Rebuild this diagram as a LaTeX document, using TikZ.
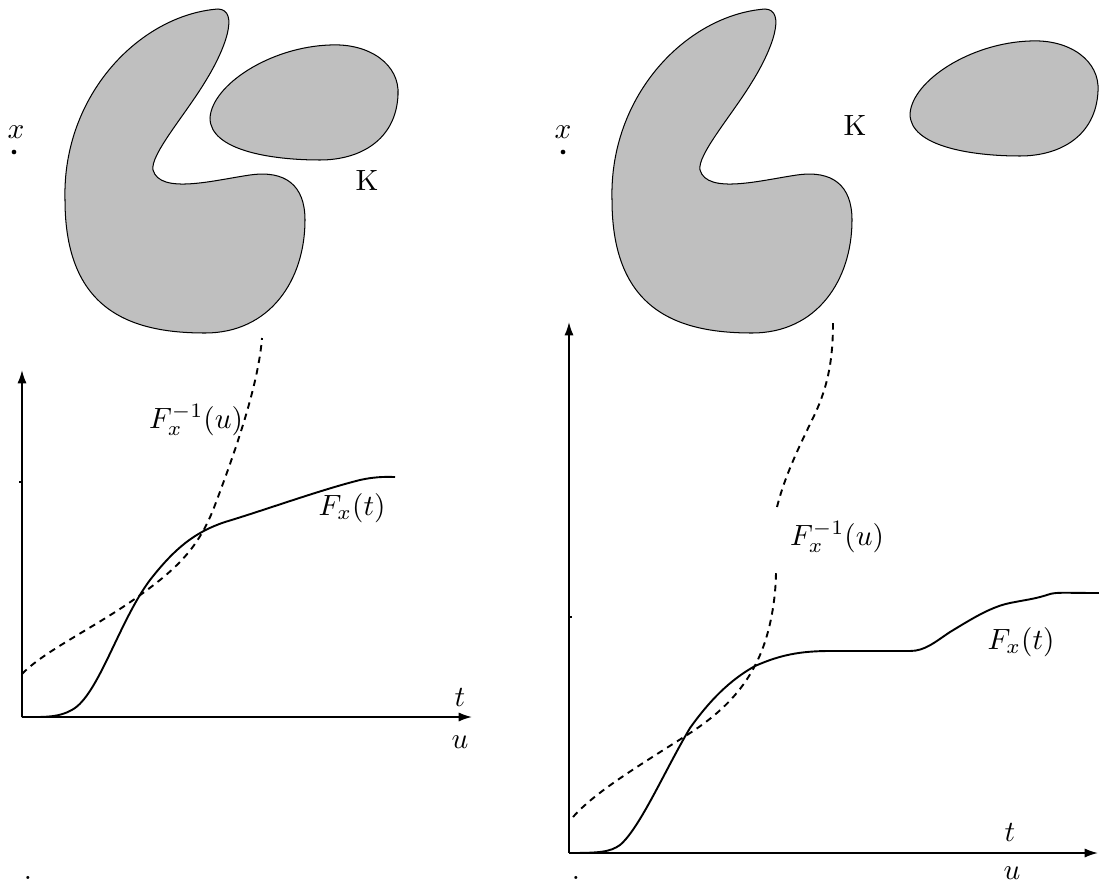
\documentclass[tikz,border=0pt]{standalone}
\usetikzlibrary{arrows.meta}

\begin{document}
\begin{tikzpicture}[
    x=0.012cm, y=-0.012cm,
    axis/.style={-{Latex[length=1.6mm,width=1.1mm]}, line width=0.6pt},
    cdf/.style={line width=0.65pt},
    inv/.style={line width=0.65pt, dash pattern=on 2.2pt off 1.8pt},
    blob/.style={draw=black, fill=black!25, line width=0.35pt},
    lbl/.style={inner sep=0pt},
    bigblob/.pic={
        \draw[blob] (218,9) .. controls (140,15) and (62,95) .. (65,200)
            .. controls (65,310) and (130,333) .. (205,333)
            .. controls (270,333) and (305,280) .. (305,220)
            .. controls (305,185) and (285,170) .. (250,175)
            .. controls (215,180) and (160,195) .. (153,170)
            .. controls (150,155) and (185,115) .. (205,82)
            .. controls (225,50) and (240,10) .. cycle;
    },
    smallblob/.pic={
        \draw[blob] (210,118) .. controls (212,85) and (270,47) .. (330,45)
            .. controls (370,43) and (400,65) .. (398,95)
            .. controls (396,140) and (360,160) .. (320,160)
            .. controls (270,160) and (210,150) .. cycle;
    }
]
\useasboundingbox (0,0) rectangle (1099,886);

% left panel
\pic at (0,0) {bigblob};
\pic at (0,0) {smallblob};
\node[lbl] (xa) at (16,132) {$x$};
\fill (14,152) circle[radius=0.8pt];
\node[lbl] (ka) at (367,180) {K};

\coordinate (oa) at (22,717);
\coordinate (ya) at (22,370);
\coordinate (ta) at (472,717);
\draw[axis] (oa) -- (ya);
\draw[axis] (oa) -- (ta);
\draw[line width=0.4pt] (22,482) -- ++(-3,0);

\draw[cdf] (oa) .. controls (45,717) and (60,718) .. (75,708)
    .. controls (100,690) and (120,620) .. (150,580)
    .. controls (175,548) and (195,532) .. (225,522)
    .. controls (265,510) and (320,490) .. (360,480)
    .. controls (378,476) and (390,477) .. (395,477);
\draw[inv] (22,674) .. controls (45,650) and (100,625) .. (143,593)
    .. controls (180,566) and (200,545) .. (215,505)
    .. controls (230,465) and (258,390) .. (262,338);

\node[lbl] (fia) at (196,420) {$F_x^{-1}(u)$};
\node[lbl] (fa) at (352,508) {$F_x(t)$};
\node[lbl] (tla) at (460,697) {$t$};
\node[lbl] (ula) at (460,742) {$u$};
\node[lbl] (da) at (28,878) {.};

% right panel
\pic at (547,0) {bigblob};
\pic at (700,-4) {smallblob};
\node[lbl] (xb) at (563,132) {$x$};
\fill (563,152) circle[radius=0.8pt];
\node[lbl] (kb) at (855,125) {K};

\coordinate (ob) at (569,853);
\coordinate (yb) at (569,322);
\coordinate (tb) at (1098,853);
\draw[axis] (ob) -- (yb);
\draw[axis] (ob) -- (tb);
\draw[line width=0.4pt] (569,617) -- ++(3,0);

\draw[cdf] (ob) .. controls (600,853) and (610,852) .. (620,845)
    .. controls (640,828) and (665,770) .. (690,728)
    .. controls (710,700) and (730,680) .. (755,666)
    .. controls (780,655) and (800,651) .. (830,651)
    -- (910,651)
    .. controls (925,651) and (935,642) .. (950,632)
    .. controls (970,620) and (990,607) .. (1010,603)
    .. controls (1030,599) and (1035,599) .. (1050,594)
    .. controls (1058,592) and (1065,593) .. (1099,593);
\draw[inv] (573,817) .. controls (595,792) and (640,765) .. (687,735)
    .. controls (720,714) and (745,690) .. (760,655)
    .. controls (770,632) and (776,600) .. (776,570);
\draw[inv] (777,507) .. controls (785,475) and (800,445) .. (812,420)
    .. controls (828,388) and (833,360) .. (833,322);

\node[lbl] (fib) at (837,537) {$F_x^{-1}(u)$};
\node[lbl] (fb) at (1021,642) {$F_x(t)$};
\node[lbl] (tlb) at (1010,832) {$t$};
\node[lbl] (ulb) at (1012,873) {$u$};
\node[lbl] (db) at (576,878) {.};

\end{tikzpicture}
\end{document}
